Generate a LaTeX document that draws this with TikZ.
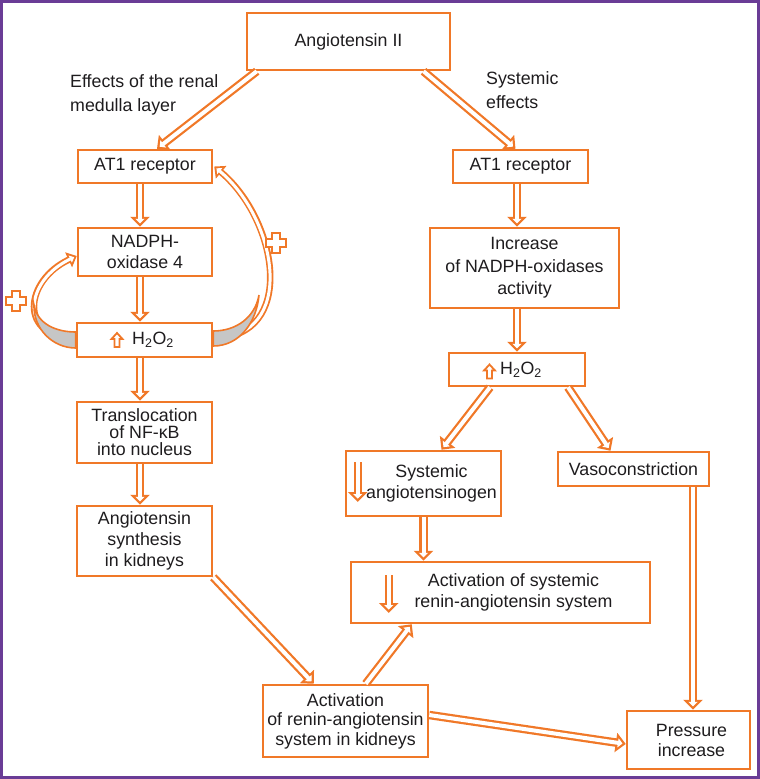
\documentclass[tikz,border=0pt]{standalone}
\usepackage{fontspec}
\setmainfont{Liberation Sans}
\usepackage{tikz}
\usetikzlibrary{arrows.meta}
\definecolor{orng}{RGB}{240,120,40}
\definecolor{purp}{RGB}{106,60,150}
\definecolor{ink}{RGB}{30,28,30}

\begin{document}
\begin{tikzpicture}[x=1pt,y=-1pt,font=\fontsize{17.8}{21}\selectfont,text=ink,
    main box/.style={draw=orng,line width=2.5pt,inner sep=0pt,align=center},
    flow arrow/.style={draw=orng,line width=8.5pt,-{Triangle[length=10pt,width=19pt]},
      postaction={draw=white,line width=4pt,shorten >=3.3pt,-{Triangle[length=4.6pt,width=9pt]}}},
    loop arrow/.style={draw=orng,line width=6.5pt,-{Triangle[length=9pt,width=16pt]},
      postaction={draw=white,line width=3pt,shorten >=2.8pt,-{Triangle[length=4.4pt,width=7.6pt]}}},
    small arrow/.style={draw=orng,line width=1.8pt,fill=white,line join=miter},
    plus sign/.style={draw=orng,line width=1.8pt,fill=white}]
    \useasboundingbox (0,0) rectangle (760,779);
    \draw[purp,line width=3pt] (1.5,1.5) rectangle (758.5,777.5);

    \node[main box,minimum width=203,minimum height=57] (ang) at (348.5,41.5) {Angiotensin II};
    \node[align=left,anchor=west,inner sep=0pt,font=\fontsize{17.8}{23.5}\selectfont] (renal) at (70,95) {Effects of the renal\\medulla layer};
    \node[align=left,anchor=west,inner sep=0pt,font=\fontsize{17.8}{23.5}\selectfont] (syst) at (486,90) {Systemic\\effects};

    % renal medulla branch
    \node[main box,minimum width=134,minimum height=33] (at1l) at (145,166.5) {AT1 receptor};
    \node[main box,minimum width=134,minimum height=48] (nox4) at (145,252) {NADPH-\\oxidase 4};
    \node[main box,minimum width=135,minimum height=34] (h2o2l) at (144.5,340) {\hspace*{17pt}H\textsubscript{2}O\textsubscript{2}};
    \node[main box,minimum width=135,minimum height=61,font=\fontsize{17.8}{17}\selectfont] (nfkb) at (144.5,432.5) {Translocation\\of NF-κB\\into nucleus};
    \node[main box,minimum width=135,minimum height=70] (synth) at (144.5,541) {Angiotensin\\synthesis\\in kidneys};

    % systemic branch
    \node[main box,minimum width=135,minimum height=33] (at1r) at (520.5,166.5) {AT1 receptor};
    \node[main box,minimum width=189,minimum height=80,font=\fontsize{17.8}{22.5}\selectfont] (noxr) at (524.5,268) {Increase\\of NADPH-oxidases\\activity};
    \node[main box,minimum width=136,minimum height=33] (h2o2r) at (517,369.5) {\hspace*{8pt}H\textsubscript{2}O\textsubscript{2}};
    \node[main box,minimum width=155,minimum height=65] (agen) at (423.5,483.5) {\hspace*{16pt}Systemic\\\hspace*{16pt}angiotensinogen};
    \node[main box,minimum width=151,minimum height=34] (vaso) at (633.5,469) {Vasoconstriction};
    \node[main box,minimum width=299,minimum height=61] (rass) at (500.5,592.5) {\hspace*{26pt}Activation of systemic\\\hspace*{26pt}renin-angiotensin system};
    \node[main box,minimum width=165,minimum height=72,font=\fontsize{17.8}{19.5}\selectfont] (rask) at (345.5,721) {Activation\\of renin-angiotensin\\system in kidneys};
    \node[main box,minimum width=123,minimum height=58,font=\fontsize{17.8}{20}\selectfont] (press) at (688.5,740) {\hspace*{6pt}Pressure\\\hspace*{6pt}increase};

    \draw[flow arrow] ([xshift=11]ang.south west) -- ([xshift=12]at1l.north);
    \draw[flow arrow] ([xshift=75]ang.south) -- ([xshift=-5]at1r.north);
    \draw[flow arrow] ([xshift=-5]at1l.south) -- ([xshift=-5]nox4.north);
    \draw[flow arrow] ([xshift=-5]nox4.south) -- ([xshift=-4.5]h2o2l.north);
    \draw[flow arrow] ([xshift=-4.5]h2o2l.south) -- ([xshift=-4.5]nfkb.north);
    \draw[flow arrow] ([xshift=-4.5]nfkb.south) -- ([xshift=-4.5]synth.north);
    \draw[flow arrow] (synth.south east) -- ([xshift=52]rask.north west);
    \draw[flow arrow] ([xshift=104]rask.north west) -- ([xshift=62]rass.south west);
    \draw[flow arrow] ([yshift=6]rask.east) -- ([yshift=-4]press.west);
    \draw[flow arrow] ([xshift=-3.5]at1r.south) -- ([xshift=-3.5]at1r.south |- noxr.north);
    \draw[flow arrow] (h2o2r.north |- noxr.south) -- (h2o2r.north);
    \draw[flow arrow] ([xshift=-27]h2o2r.south) -- ([xshift=18]agen.north);
    \draw[flow arrow] ([xshift=51]h2o2r.south) -- ([xshift=-23]vaso.north);
    \draw[flow arrow] (agen.south) -- (agen.south |- rass.north);
    \draw[flow arrow] ([xshift=59.5]vaso.south) -- ([xshift=59.5]vaso.south |- press.north);

    % decrease marks inside the boxes
    \draw[flow arrow] ([xshift=13,yshift=21.5]agen.west) -- ([xshift=13,yshift=-18.5]agen.west);
    \draw[flow arrow] ([xshift=39,yshift=17.5]rass.west) -- ([xshift=39,yshift=-20.5]rass.west);
    % increase marks
    \draw[small arrow] ([xshift=-27.5,yshift=7]h2o2l.center) -- ++(5.5,6) -- ++(-3,0) -- ++(0,8) -- ++(-5,0) -- ++(0,-8) -- ++(-3,0) -- cycle;
    \draw[small arrow] ([xshift=-27.5,yshift=5]h2o2r.center) -- ++(5.5,6) -- ++(-3,0) -- ++(0,8) -- ++(-5,0) -- ++(0,-8) -- ++(-3,0) -- cycle;

    % positive feedback loops
    \draw[loop arrow] ([yshift=2]h2o2l.west) to[out=180,in=205,looseness=1.8] ([yshift=-4]nox4.west);
    \filldraw[fill=gray!45,draw=orng,line width=1.6pt] ([yshift=8]h2o2l.west) to[out=180,in=-80] (34,305) to[out=-92,in=180] ([yshift=-8]h2o2l.west) -- cycle;
    \draw[loop arrow] ([yshift=2]h2o2l.east) to[out=0,in=-40,looseness=1.25] ([xshift=1]at1l.east);
    \filldraw[fill=gray!45,draw=orng,line width=1.6pt] ([yshift=9]h2o2l.east) to[out=0,in=-100] (259,295) to[out=-95,in=0] ([yshift=-6]h2o2l.east) -- cycle;
    \draw[plus sign] (16,301) ++(-4,-10) -- ++(8,0) -- ++(0,6) -- ++(6,0) -- ++(0,8) -- ++(-6,0) -- ++(0,6) -- ++(-8,0) -- ++(0,-6) -- ++(-6,0) -- ++(0,-8) -- ++(6,0) -- cycle;
    \draw[plus sign] (276,243) ++(-4,-10) -- ++(8,0) -- ++(0,6) -- ++(6,0) -- ++(0,8) -- ++(-6,0) -- ++(0,6) -- ++(-8,0) -- ++(0,-6) -- ++(-6,0) -- ++(0,-8) -- ++(6,0) -- cycle;
\end{tikzpicture}
\end{document}
